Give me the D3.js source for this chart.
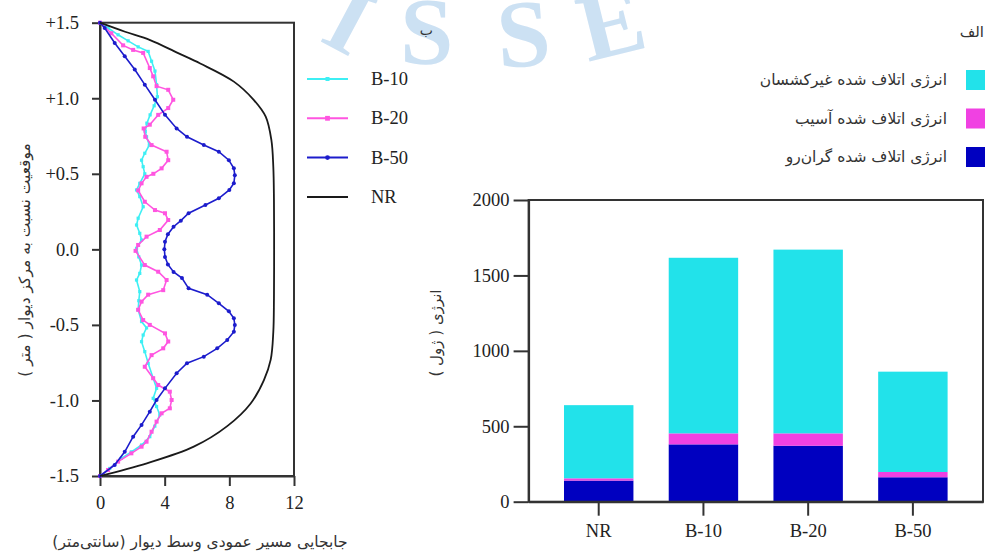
<!DOCTYPE html>
<html>
<head>
<meta charset="utf-8">
<script src="https://cdn.jsdelivr.net/npm/d3@7"></script>
<style>
  body { margin: 0; background: #fff; }
  svg { display: block; }
  .num { font-family: "Liberation Serif", "Times New Roman", serif; font-size: 18.5px; fill: #222; }
  .fa { font-family: "DejaVu Sans", sans-serif; fill: #333; }
</style>
</head>
<body>
<svg id="chart"></svg>
<script>
// ---- left panel: wall mid-height displacement profile ----
const posTicks = [1.5, 1.0, 0.5, 0, -0.5, -1.0, -1.5];
const posTickLabels = ['+1.5', '+1.0', '+0.5', '0.0', '-0.5', '-1.0', '-1.5'];
const dispTicks = [0, 4, 8, 12];

const b10Pos  = [1.5, 1.465, 1.42, 1.38, 1.34, 1.31, 1.245, 1.18, 1.09, 1.01, 0.95, 0.89, 0.835, 0.78, 0.745, 0.69, 0.636, 0.59, 0.547, 0.50, 0.437, 0.393, 0.349, 0.282, 0.206, 0.161, 0.106, 0.062, 0.007, -0.05, -0.104, -0.159, -0.203, -0.28, -0.34, -0.40, -0.478, -0.52, -0.567, -0.611, -0.677, -0.754, -0.853, -0.92, -0.986, -1.04, -1.096, -1.17, -1.24, -1.295, -1.34, -1.383, -1.45, -1.5];
const b10Disp = [0, 0.5, 1.12, 1.74, 2.36, 2.98, 3.19, 3.4, 3.5, 3.55, 3.35, 3.1, 2.9, 2.8, 2.88, 3.05, 2.77, 2.57, 2.67, 2.77, 2.46, 2.26, 2.46, 2.67, 2.36, 2.26, 2.46, 2.57, 2.26, 2.4, 2.57, 2.46, 2.26, 2.46, 2.4, 2.36, 2.57, 2.88, 2.67, 2.57, 2.77, 2.98, 3.29, 3.5, 3.29, 3.5, 3.7, 3.39, 3.08, 2.57, 1.94, 1.32, 0.6, 0];

const b20Pos  = [1.5, 1.43, 1.35, 1.32, 1.30, 1.20, 1.145, 1.08, 1.056, 0.99, 0.935, 0.89, 0.825, 0.80, 0.745, 0.69, 0.646, 0.59, 0.536, 0.50, 0.48, 0.437, 0.39, 0.315, 0.26, 0.239, 0.194, 0.128, 0.084, 0.029, -0.01, -0.104, -0.148, -0.203, -0.27, -0.30, -0.346, -0.40, -0.468, -0.50, -0.556, -0.61, -0.655, -0.70, -0.777, -0.853, -0.898, -0.942, -0.997, -1.052, -1.085, -1.14, -1.207, -1.273, -1.306, -1.35, -1.405, -1.46, -1.5];
const b20Disp = [0, 0.7, 1.43, 2.05, 2.67, 3.08, 3.29, 3.5, 4.22, 4.53, 4.22, 3.6, 3.08, 2.7, 2.8, 3.19, 4.12, 4.22, 3.81, 3.3, 2.88, 2.57, 2.36, 2.77, 3.4, 4.02, 4.22, 3.7, 2.88, 2.36, 2.2, 2.77, 3.6, 4.12, 3.91, 2.98, 2.57, 2.36, 2.67, 3.08, 4.02, 4.22, 3.91, 3.19, 2.77, 3.29, 3.6, 4.32, 4.43, 4.32, 3.81, 3.5, 3.19, 2.88, 2.57, 1.94, 1.12, 0.5, 0];

const b50Pos  = [1.5, 1.465, 1.366, 1.278, 1.19, 1.09, 0.99, 0.89, 0.80, 0.745, 0.69, 0.646, 0.59, 0.536, 0.49, 0.437, 0.393, 0.338, 0.294, 0.239, 0.19, 0.15, 0.10, 0.05, 0, -0.05, -0.10, -0.15, -0.19, -0.258, -0.30, -0.357, -0.41, -0.456, -0.50, -0.545, -0.60, -0.655, -0.71, -0.754, -0.82, -0.92, -0.997, -1.074, -1.162, -1.24, -1.34, -1.427, -1.5];
const b50Disp = [0, 0.29, 0.91, 1.53, 2.15, 2.77, 3.4, 4.02, 4.74, 5.38, 6.42, 7.35, 7.97, 8.28, 8.34, 8.28, 8.0, 7.35, 6.52, 5.48, 5.0, 4.55, 4.2, 4.02, 3.98, 4.02, 4.2, 4.55, 5.07, 5.48, 6.63, 7.35, 7.97, 8.28, 8.34, 8.28, 7.87, 7.25, 6.42, 5.38, 4.74, 4.02, 3.5, 3.08, 2.57, 2.05, 1.53, 0.91, 0];

const nrPos  = [1.5, 1.44, 1.385, 1.30, 1.23, 1.11, 0.988, 0.878, 0.724, 0.547, 0.327, 0, -0.327, -0.547, -0.73, -0.865, -1.02, -1.17, -1.306, -1.416, -1.5];
const nrDisp = [0, 1.55, 3.1, 4.8, 6.2, 8.28, 9.52, 10.25, 10.6, 10.72, 10.76, 10.77, 10.76, 10.72, 10.56, 10.14, 9.32, 7.87, 5.8, 2.9, 0];

// ---- right panel: dissipated energy ----
const categories = ['NR', 'B-10', 'B-20', 'B-50'];
const viscousEnergy   = [140, 380, 371, 162];
const damageEnergy    = [15, 73, 82, 35];
const inelasticEnergy = [485, 1164, 1218, 665];
const energyTicks = [0, 500, 1000, 1500, 2000];
const energyNames = ['انرژی اتلاف شده غیرکشسان', 'انرژی اتلاف شده آسیب', 'انرژی اتلاف شده گران‌رو'];

const W = 987, H = 554;
const svg = d3.select('#chart').attr('width', W).attr('height', H);

// watermark
const wm = svg.append('g').attr('fill', '#c4dcf2').attr('opacity', 0.85)
    .style('font-family', '"Liberation Serif", serif').style('font-size', '96px').style('font-weight', 'bold');
[['I', 318, 40, 28], ['S', 400, 64, 0], ['S', 499, 68, -4], ['E', 588, 62, -14]].forEach(([ch, x, y, r]) => {
    wm.append('text').attr('transform', `translate(${x},${y}) rotate(${r})`).text(ch);
});

// ================= left chart =================
const xL = d3.scaleLinear().domain([0, 12]).range([100, 294]);
const yL = d3.scaleLinear().domain([-1.5, 1.5]).range([476, 22.7]);

const left = svg.append('g');

left.append('rect')
    .attr('x', xL(0)).attr('y', yL(1.5))
    .attr('width', xL(12) - xL(0)).attr('height', yL(-1.5) - yL(1.5))
    .attr('fill', 'none').attr('stroke', '#333').attr('stroke-width', 2);

const yAxisL = d3.axisLeft(yL)
    .tickValues(posTicks)
    .tickFormat((d, i) => posTickLabels[i])
    .tickSize(8).tickSizeOuter(0).tickPadding(13);
const xAxisL = d3.axisBottom(xL)
    .tickValues(dispTicks)
    .tickSize(10).tickSizeOuter(0).tickPadding(10);

left.append('g').attr('transform', `translate(${xL(0)},0)`).call(yAxisL);
left.append('g').attr('transform', `translate(0,${yL(-1.5)})`).call(xAxisL);
left.selectAll('.domain, .tick line').attr('stroke', '#333').attr('stroke-width', 2);
left.selectAll('.tick text').attr('class', 'num').attr('font-family', null).attr('font-size', null);

const profiles = [
    { name: 'B-10', pos: b10Pos, disp: b10Disp, color: '#3eeff4', marker: 'square', r: 1.6 },
    { name: 'B-20', pos: b20Pos, disp: b20Disp, color: '#ff55e0', marker: 'square', r: 2.0 },
    { name: 'B-50', pos: b50Pos, disp: b50Disp, color: '#1c1ccc', marker: 'circle', r: 2.0 },
    { name: 'NR',   pos: nrPos,  disp: nrDisp,  color: '#1a1a1a', marker: null, r: 0 }
];

const line = d3.line().x(d => xL(d[0])).y(d => yL(d[1]));
const smooth = d3.line().x(d => xL(d[0])).y(d => yL(d[1])).curve(d3.curveCatmullRom);

function drawMarker(g, m, x, y, r, color) {
    if (m === 'square') {
        g.append('rect').attr('x', x - r).attr('y', y - r).attr('width', 2 * r).attr('height', 2 * r).attr('fill', color);
    } else if (m === 'circle') {
        g.append('circle').attr('cx', x).attr('cy', y).attr('r', r).attr('fill', color);
    }
}

profiles.forEach(p => {
    const pts = d3.zip(p.disp, p.pos);
    const g = left.append('g');
    g.append('path')
        .attr('d', p.marker ? line(pts) : smooth(pts))
        .attr('fill', 'none')
        .attr('stroke', p.color)
        .attr('stroke-width', p.marker ? 1.6 : 1.8);
    pts.forEach(d => drawMarker(g, p.marker, xL(d[0]), yL(d[1]), p.r, p.color));
});

// legend
const legL = left.append('g');
profiles.forEach((p, i) => {
    const y = 79 + i * 39.3;
    legL.append('line').attr('x1', 307).attr('x2', 348).attr('y1', y).attr('y2', y)
        .attr('stroke', p.color).attr('stroke-width', 2);
    drawMarker(legL, p.marker, 327.5, y, p.r + 0.4, p.color);
    legL.append('text').attr('class', 'num').attr('x', 371).attr('y', y + 6).text(p.name);
});

left.append('text').attr('class', 'fa')
    .attr('direction', 'rtl').style('unicode-bidi', 'embed')
    .attr('transform', 'translate(30,260) rotate(-90)')
    .attr('text-anchor', 'middle').style('font-size', '15.5px')
    .text('موقعیت نسبت به مرکز دیوار ( متر )');

left.append('text').attr('class', 'fa')
    .attr('direction', 'rtl').style('unicode-bidi', 'embed')
    .attr('x', 200).attr('y', 547)
    .attr('text-anchor', 'middle').style('font-size', '15.5px')
    .text('جابجایی مسیر عمودی وسط دیوار (سانتی‌متر)');

// ================= right chart =================
const xR = d3.scaleBand().domain(categories).range([528.6, 983]).paddingInner(0.337).paddingOuter(0.338);
const yR = d3.scaleLinear().domain([0, 2000]).range([501.7, 200]);

const right = svg.append('g');

const table = categories.map((c, i) => ({
    cat: c, viscous: viscousEnergy[i], damage: damageEnergy[i], inelastic: inelasticEnergy[i]
}));
const keys = ['viscous', 'damage', 'inelastic'];
const colors = { viscous: '#0000c0', damage: '#f041e2', inelastic: '#22e2ea' };
const stacked = d3.stack().keys(keys)(table);

right.selectAll('g.layer')
    .data(stacked)
    .join('g').attr('class', 'layer')
    .attr('fill', d => colors[d.key])
    .selectAll('rect')
    .data(d => d)
    .join('rect')
    .attr('x', d => xR(d.data.cat))
    .attr('width', xR.bandwidth())
    .attr('y', d => yR(d[1]))
    .attr('height', d => yR(d[0]) - yR(d[1]));

right.append('rect')
    .attr('x', 528.6).attr('y', yR(2000))
    .attr('width', 983 - 528.6).attr('height', yR(0) - yR(2000))
    .attr('fill', 'none').attr('stroke', '#333').attr('stroke-width', 2);

const yAxisR = d3.axisLeft(yR).tickValues(energyTicks).tickFormat(d3.format('d'))
    .tickSize(15).tickSizeOuter(0).tickPadding(4);
const xAxisR = d3.axisBottom(xR).tickSize(14).tickSizeOuter(0).tickPadding(8);
right.append('g').attr('transform', 'translate(528.6,0)').call(yAxisR);
right.append('g').attr('transform', `translate(0,${yR(0)})`).call(xAxisR);
right.selectAll('.domain, .tick line').attr('stroke', '#333').attr('stroke-width', 2);
right.selectAll('.tick text').attr('class', 'num').attr('font-family', null).attr('font-size', null);

right.append('text').attr('class', 'fa')
    .attr('direction', 'rtl').style('unicode-bidi', 'embed')
    .attr('transform', 'translate(441,333) rotate(-90)')
    .attr('text-anchor', 'middle').style('font-size', '15px')
    .text('انرژی ( ژول )');

// legend (right)
const legKeys = ['inelastic', 'damage', 'viscous'];
legKeys.forEach((k, i) => {
    const y = 80 + i * 38.5;
    right.append('rect').attr('x', 966).attr('y', y - 10).attr('width', 19).attr('height', 20).attr('fill', colors[k]);
    right.append('text').attr('class', 'fa')
        .attr('direction', 'rtl').style('unicode-bidi', 'embed')
        .attr('x', 947).attr('y', y + 5)
        .attr('text-anchor', 'start').style('font-size', '15.5px')
        .text(energyNames[i]);
});

// panel labels
svg.append('text').attr('class', 'fa').attr('direction', 'rtl').style('unicode-bidi', 'embed')
    .attr('x', 984).attr('y', 37).attr('text-anchor', 'start').style('font-size', '15px').text('الف');
svg.append('text').attr('class', 'fa').attr('direction', 'rtl').style('unicode-bidi', 'embed')
    .attr('x', 433).attr('y', 35).attr('text-anchor', 'start').style('font-size', '14px').text('ب');
</script>
</body>
</html>
